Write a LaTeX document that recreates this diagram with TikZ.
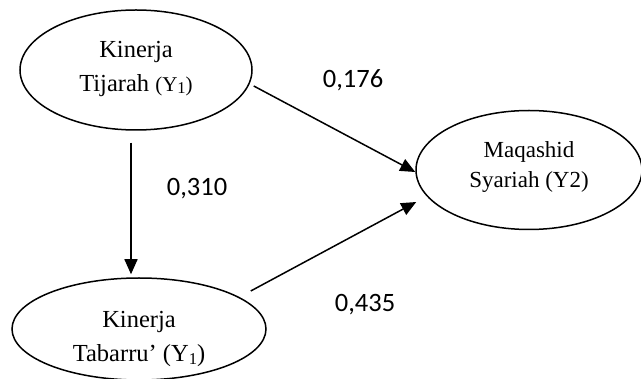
\documentclass[tikz,border=0pt]{standalone}
\usepackage{fontspec}
\setmainfont{Liberation Serif}
\newfontfamily\lblfont{Carlito}
\usetikzlibrary{shapes.geometric,arrows.meta,calc}
\tikzset{
  ell/.style={draw, ellipse, line width=1.5pt, inner sep=0pt},
  etext/.style={align=center, inner sep=0pt, font=\fontsize{24.5}{34}\selectfont},
  lbl/.style={inner sep=0pt, font=\lblfont\fontsize{26.5}{30}\selectfont},
  arr/.style={line width=1.5pt, -{Triangle[length=15pt,width=13pt]}}
}
\newcommand{\subone}{\raisebox{-2.5pt}{\fontsize{16.5}{16.5}\selectfont 1}}
\begin{document}
\begin{tikzpicture}[x=1pt,y=-1pt]
\useasboundingbox (0,0) rectangle (641,379);
\begin{scope}
\clip (0,0) rectangle (641,379);
\node[ell, minimum width=232pt, minimum height=120pt] (t) at (136,70) {};
\node[ell, minimum width=254pt, minimum height=102pt] (b) at (139,329) {};
\node[ell, minimum width=226pt, minimum height=119pt] (m) at (529,170) {};
\end{scope}
\node[etext] (tt) at (136,69) {Kinerja\\Tijarah {\fontsize{21}{21}\selectfont(Y\subone)}};
\node[etext] (bt) at (139,339) {Kinerja\\Tabarru' (Y\subone)};
\node[etext, font=\fontsize{23}{30}\selectfont] (mt) at (529,167) {Maqashid\\Syariah (Y2)};
\draw[arr] ($(t.east)+(1,16)$) -- ($(m.west)+(0,2)$);
\draw[arr] ($(b.east)+(-16,-38)$) -- ($(m.west)+(1,32)$);
\draw[arr] ($(t.south)+(-5,12)$) -- ($(b.north)+(-8,-3)$);
\node[lbl] (l1) at (353,80) {0,176};
\node[lbl] (l2) at (197,189) {0,310};
\node[lbl] (l3) at (365,305) {0,435};
\end{tikzpicture}
\end{document}
